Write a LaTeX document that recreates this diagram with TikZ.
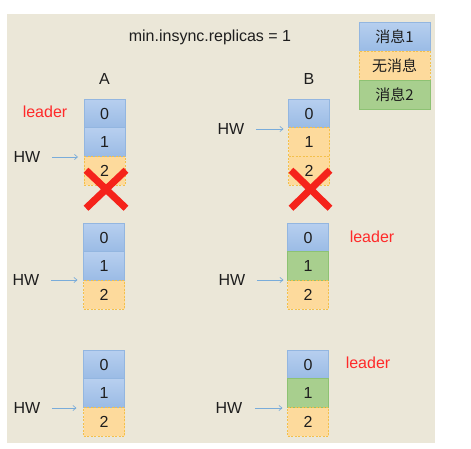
\documentclass[tikz,border=0pt]{standalone}
\usepackage{fontspec}
\setmainfont{Liberation Sans}
\newfontfamily\cjk{Noto Sans CJK SC}
\usetikzlibrary{positioning,arrows.meta}
\definecolor{bgbeige}{HTML}{EBE7D8}
\definecolor{textgray}{HTML}{1E1E1E}
\definecolor{bluetop}{HTML}{B7CFEF}
\definecolor{bluebot}{HTML}{9ABBE5}
\definecolor{blueedge}{HTML}{93B6E0}
\definecolor{orangefill}{HTML}{FDDA9C}
\definecolor{orangeedge}{HTML}{F4C04A}
\definecolor{greenfill}{HTML}{A8CF8E}
\definecolor{greenedge}{HTML}{8DC273}
\definecolor{leaderred}{HTML}{FF2A2A}
\definecolor{crossred}{HTML}{F5231B}
\definecolor{hwblue}{HTML}{79ACDA}

\begin{document}
\begin{tikzpicture}[x=1pt, y=-1pt,
  every node/.style={font=\fontsize{16}{19}\selectfont, text=textgray},
  cell/.style={minimum width=41pt, minimum height=28.7pt, inner sep=0pt, outer sep=0pt, line width=0.8pt},
  msgone/.style={cell, draw=blueedge, top color=bluetop, bottom color=bluebot},
  nomsg/.style={cell, draw=orangeedge, dash pattern=on 2pt off 1.5pt, fill=orangefill},
  msgtwo/.style={cell, draw=greenedge, fill=greenfill},
  legendbox/.style={minimum width=71pt, minimum height=29pt, font=\cjk\fontsize{15}{18}\selectfont},
  leaderlabel/.style={text=leaderred},
  hwarrow/.style={draw=hwblue, line width=0.7pt, -{Straight Barb[length=3pt,width=5pt]}},
  crossmark/.style={draw=crossred, line width=7pt}]
  \useasboundingbox (0,0) rectangle (471,449);
  \fill[bgbeige] (7,14) rectangle (435,443);

  % title and legend
  \node (title) at (210,37) {min.insync.replicas = 1};
  \node[msgone, legendbox] (leg1) at (394.5,37) {消息1};
  \node[nomsg, legendbox, below=0pt of leg1] (leg0) {无消息};
  \node[msgtwo, legendbox, below=0pt of leg0] (leg2) {消息2};

  % step 1: both replicas crash
  \node (nameA) at (104.5,79) {A};
  \node (nameB) at (309,79) {B};
  \node[msgone] (A10) at (104.5,113.5) {0};
  \node[msgone, below=0pt of A10] (A11) {1};
  \node[nomsg, below=0pt of A11] (A12) {2};
  \node[msgone] (B10) at (309,113.5) {0};
  \node[nomsg, below=0pt of B10] (B11) {1};
  \node[nomsg, below=0pt of B11] (B12) {2};
  \node[leaderlabel] (lead1) at (45,112) {leader};
  \node (hwA1) at (27,157) {HW};
  \node (hwB1) at (231,129) {HW};
  \draw[hwarrow, shorten <=8pt, shorten >=6pt] (hwA1.east) -- (hwA1.east -| A12.west);
  \draw[hwarrow, shorten <=8pt, shorten >=5pt] (hwB1.east) -- (hwB1.east -| B11.west);
  \draw[crossmark] ([shift={(-18.5,-15)}]A12.south) -- ([shift={(21.5,23)}]A12.south);
  \draw[crossmark] ([shift={(21.5,-15)}]A12.south) -- ([shift={(-18.5,23)}]A12.south);
  \draw[crossmark] ([shift={(-18,-15)}]B12.south) -- ([shift={(21,23)}]B12.south);
  \draw[crossmark] ([shift={(21,-15)}]B12.south) -- ([shift={(-18,23)}]B12.south);

  % step 2: B comes back first and becomes leader
  \node[msgone] (A20) at (104,237.5) {0};
  \node[msgone, below=0pt of A20] (A21) {1};
  \node[nomsg, below=0pt of A21] (A22) {2};
  \node[msgone] (B20) at (308,237.5) {0};
  \node[msgtwo, below=0pt of B20] (B21) {1};
  \node[nomsg, below=0pt of B21] (B22) {2};
  \node[leaderlabel] (lead2) at (372,237) {leader};
  \node (hwA2) at (26,280) {HW};
  \node (hwB2) at (232,280) {HW};
  \draw[hwarrow, shorten <=8pt, shorten >=6pt] (hwA2.east) -- (hwA2.east -| A22.west);
  \draw[hwarrow, shorten <=8pt, shorten >=4pt] (hwB2.east) -- (hwB2.east -| B22.west);

  % step 3: A back as follower
  \node[msgone] (A30) at (104,364.5) {0};
  \node[msgone, below=0pt of A30] (A31) {1};
  \node[nomsg, below=0pt of A31] (A32) {2};
  \node[msgone] (B30) at (308,364.5) {0};
  \node[msgtwo, below=0pt of B30] (B31) {1};
  \node[nomsg, below=0pt of B31] (B32) {2};
  \node[leaderlabel] (lead3) at (368,363) {leader};
  \node (hwA3) at (27,408) {HW};
  \node (hwB3) at (229,408) {HW};
  \draw[hwarrow, shorten <=8pt, shorten >=7pt] (hwA3.east) -- (hwA3.east -| A32.west);
  \draw[hwarrow, shorten <=9pt, shorten >=5pt] (hwB3.east) -- (hwB3.east -| B32.west);
\end{tikzpicture}
\end{document}
